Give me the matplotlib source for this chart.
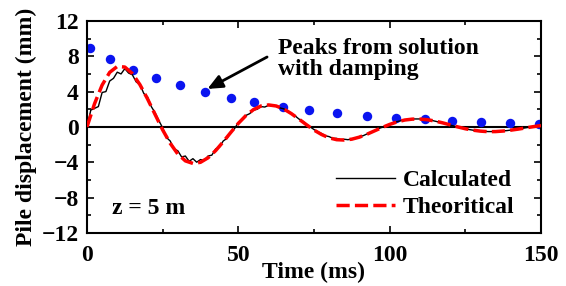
import numpy as np
import matplotlib
matplotlib.use("Agg")
import matplotlib.pyplot as plt
from matplotlib.ticker import MultipleLocator

plt.rcParams['font.family'] = ['Liberation Serif', 'DejaVu Serif']
plt.rcParams['font.weight'] = 'bold'
plt.rcParams['axes.labelweight'] = 'bold'

# peaks from solution with damping (envelope)
peak_t = [1.0, 7.6, 15.1, 22.8, 30.7, 39.0, 47.6, 55.2, 64.7, 73.3, 82.6, 92.4,
          102.0, 111.7, 120.7, 130.2, 139.9, 149.3]
peak_y = [8.9, 7.7, 6.5, 5.5, 4.7, 3.95, 3.3, 2.8, 2.25, 1.9, 1.55, 1.27,
          1.05, 0.85, 0.68, 0.58, 0.48, 0.36]

# theoretical curve, every 2.5 ms
theo_t = np.arange(0, 150.1, 2.5)
theo_y = [0.0, 2.63, 4.74, 6.18, 6.85, 6.78, 6.04, 4.78, 3.17, 1.41,
          -0.34, -1.86, -3.07, -3.85, -4.14, -4.01, -3.50, -2.69, -1.69, -0.63,
          0.40, 1.28, 1.96, 2.37, 2.49, 2.37, 2.03, 1.51, 0.89, 0.25,
          -0.36, -0.86, -1.24, -1.45, -1.49, -1.39, -1.16, -0.83, -0.45, -0.07,
          0.28, 0.57, 0.78, 0.88, 0.89, 0.81, 0.66, 0.46, 0.23, 0.00,
          -0.21, -0.37, -0.48, -0.54, -0.53, -0.47, -0.37, -0.25, -0.11, 0.03,
          0.15]

# calculated curve, every 1.25 ms
calc_t = np.arange(0, 150.1, 1.25)
calc_y = [0.0, 1.9, 2.1, 2.3, 3.9, 4.0, 5.2, 5.5, 6.2, 6.0,
          6.6, 6.1, 5.9, 5.1, 4.8, 3.8, 3.4, 2.3, 1.6, 0.7,
          -0.1, -1.2, -1.6, -2.5, -2.7, -3.4, -3.3, -3.9, -3.6, -4.0,
          -3.7, -3.8, -3.3, -3.2, -2.5, -2.3, -1.6, -1.3, -0.6, -0.2,
          0.5, 0.8, 1.3, 1.5, 1.9, 2.0, 2.3, 2.25, 2.45, 2.35,
          2.35, 2.15, 2.05, 1.75, 1.5, 1.25, 0.9, 0.65, 0.3, 0.0,
          -0.3, -0.55, -0.75, -1.0, -1.1, -1.3, -1.3, -1.45, -1.4, -1.45,
          -1.35, -1.3, -1.1, -1.0, -0.8, -0.6, -0.45, -0.2, -0.05, 0.15,
          0.3, 0.45, 0.6, 0.7, 0.8, 0.85, 0.9, 0.9, 0.9, 0.85,
          0.8, 0.75, 0.65, 0.55, 0.45, 0.35, 0.2, 0.1, -0.02, -0.1,
          -0.2, -0.3, -0.37, -0.43, -0.48, -0.5, -0.53, -0.53, -0.52, -0.5,
          -0.45, -0.42, -0.36, -0.3, -0.23, -0.17, -0.1, -0.03, 0.03, 0.1,
          0.15]

fs = 17

fig = plt.figure(figsize=(5.66, 2.86), dpi=100)
ax = fig.add_axes([0.1537, 0.186, 0.8021, 0.7406])

ax.axhline(0, color='black', lw=1.5, zorder=1)
ax.plot(peak_t, peak_y, 'o', color='#0a14f0', ms=6.8, mec='none', zorder=2)
ax.plot(calc_t, calc_y, color='black', lw=1.0, label='Calculated', zorder=3)
ax.plot(theo_t, theo_y, color='#ff0000', lw=2.5, dashes=(3.8, 1.5),
        label='Theoritical', zorder=4)

ax.set_xlim(0, 150)
ax.set_ylim(-12, 12)
ax.xaxis.set_major_locator(MultipleLocator(50))
ax.xaxis.set_minor_locator(MultipleLocator(25))
ax.yaxis.set_major_locator(MultipleLocator(4))
ax.yaxis.set_minor_locator(MultipleLocator(2))
ax.tick_params(which='both', direction='in', top=True, right=True,
               labelsize=fs, width=1.2)
ax.tick_params(which='major', length=5)
ax.tick_params(axis='x', which='major', pad=9)
ax.tick_params(axis='y', which='major', pad=6)
ax.tick_params(which='minor', length=3)
for lab in ax.get_xticklabels() + ax.get_yticklabels():
    lab.set_fontweight('bold')
for s in ax.spines.values():
    s.set_linewidth(1.5)

ax.set_xlabel('Time (ms)', fontsize=fs, labelpad=-3)
ax.set_ylabel('Pile displacement (mm)', fontsize=fs, labelpad=3)

ax.text(8.3, -9.3, 'z = 5 m', fontsize=fs, va='center')
ax.text(63.1, 7.75, 'Peaks from solution\nwith damping', fontsize=fs,
        va='center', ha='left', linespacing=1.0)
ax.annotate('', xy=(39.8, 4.3), xytext=(59.5, 7.92),
            arrowprops=dict(arrowstyle='-|>,head_length=0.9,head_width=0.4',
                            color='black', lw=2.0, shrinkA=0, shrinkB=0))

ax.legend(loc='lower right', frameon=False, fontsize=fs, handlelength=2.5,
          handletextpad=0.3, labelspacing=0.22, borderpad=0, borderaxespad=0,
          bbox_to_anchor=(0.941, 0.07))

fig.savefig('out.png', dpi=100)
